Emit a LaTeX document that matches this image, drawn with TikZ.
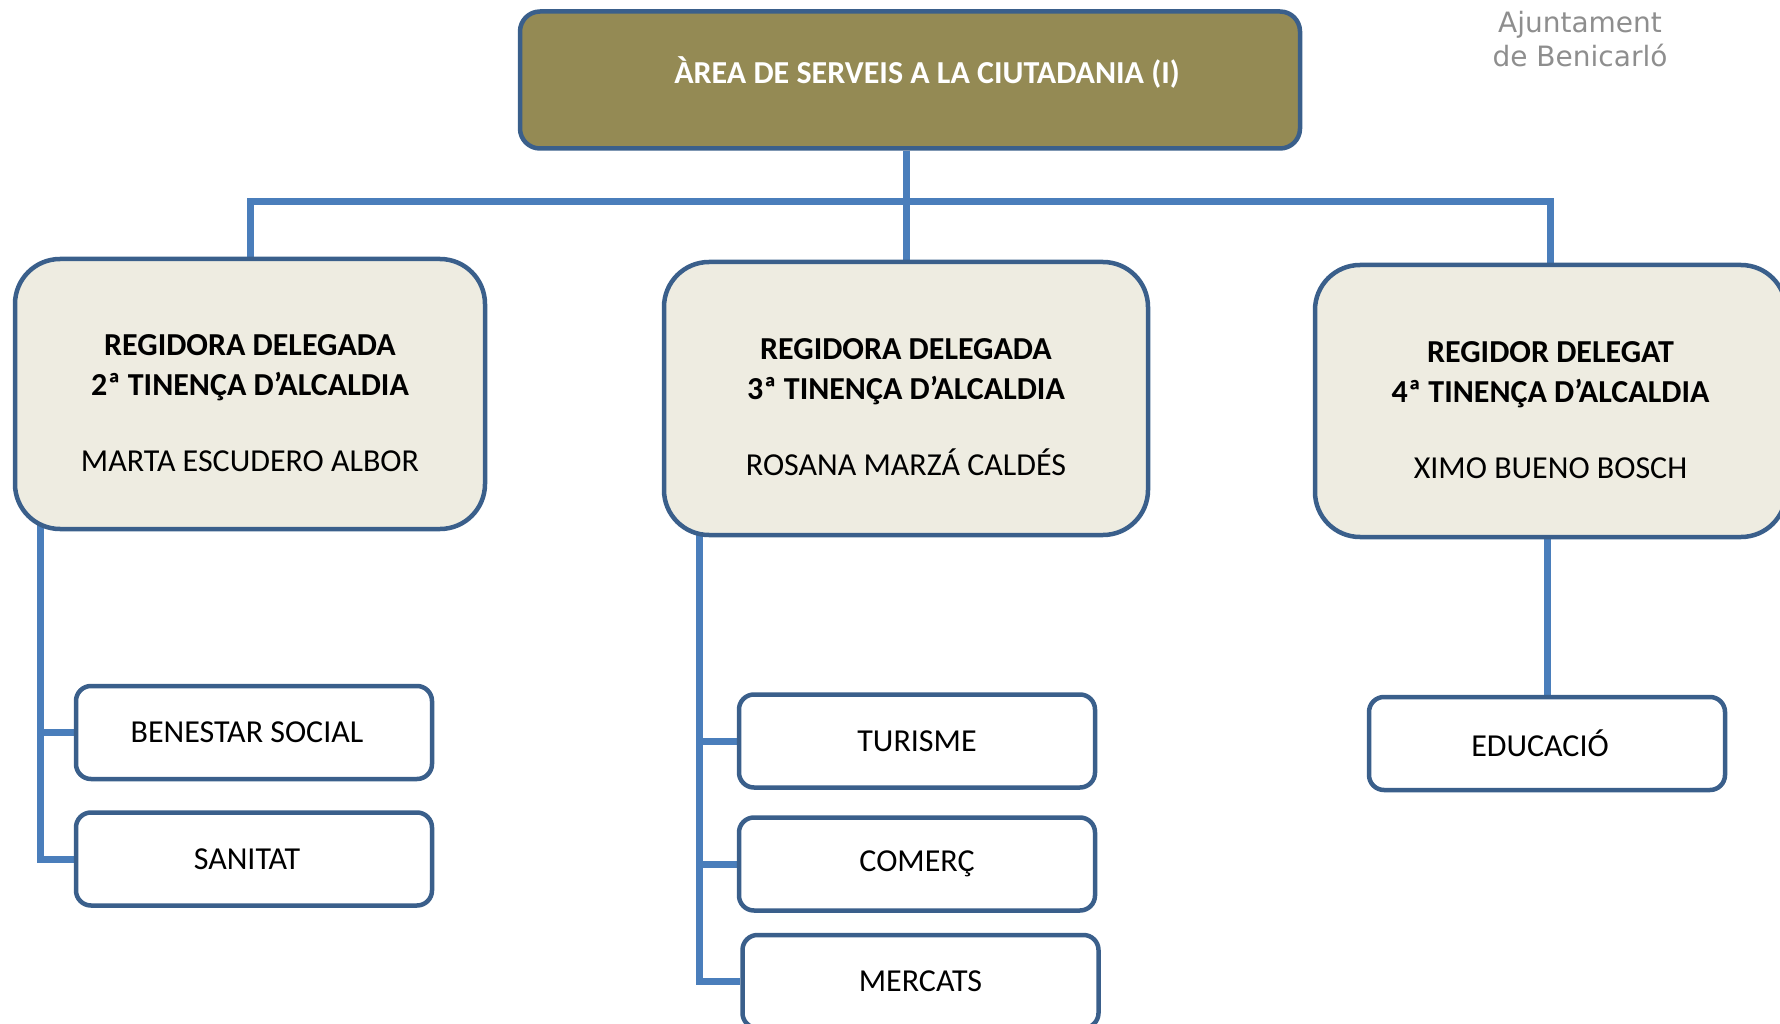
\documentclass[tikz,border=0pt]{standalone}
\usepackage{fontspec}
\usepackage{tikz}
\usetikzlibrary{backgrounds}
\setmainfont{Carlito}
\newfontfamily\logofont{DejaVu Sans}

\definecolor{olivebox}{HTML}{948A54}
\definecolor{beigebox}{HTML}{EEECE1}
\definecolor{edgeblue}{HTML}{3A5F8B}
\definecolor{linkblue}{HTML}{4A7EBB}
\definecolor{logogray}{HTML}{8E8E8E}

\tikzset{
  area/.style={draw=edgeblue, line width=4.5pt, fill=olivebox, rounded corners=20pt,
    text=white, font=\fontsize{32}{40}\selectfont\bfseries,
    minimum width=780pt, minimum height=137pt, text depth=19pt},
  regbox/.style={draw=edgeblue, line width=4.5pt, fill=beigebox, rounded corners=45pt,
    align=center, font=\fontsize{32}{40}\selectfont},
  unitbox/.style={draw=edgeblue, line width=4.5pt, fill=white, rounded corners=15pt,
    font=\fontsize{32}{40}\selectfont, minimum width=356pt, minimum height=93pt},
  link/.style={draw=linkblue, line width=7pt}
}
\newcommand{\topgap}{\rule{0pt}{39pt}}

\begin{document}
\begin{tikzpicture}[x=1pt, y=-1pt]
\useasboundingbox (0,0) rectangle (1780,1024);
\clip (0,0) rectangle (1780,1024);

% area and delegates
\node[area] (area) at (910,80) {\hspace{34pt}ÀREA DE SERVEIS A LA CIUTADANIA (I)};
\node[regbox, minimum width=470pt, minimum height=270pt] (reg2) at (250,394)
  {\topgap\textbf{REGIDORA DELEGADA}\\\textbf{2ª TINENÇA D’ALCALDIA}\\[36pt]MARTA ESCUDERO ALBOR};
\node[regbox, minimum width=484pt, minimum height=273pt] (reg3) at (906,398.5)
  {\topgap\textbf{REGIDORA DELEGADA}\\\textbf{3ª TINENÇA D’ALCALDIA}\\[36pt]ROSANA MARZÁ CALDÉS};
\node[regbox, minimum width=471pt, minimum height=272pt] (reg4) at (1550.5,401)
  {\topgap\textbf{REGIDOR DELEGAT}\\\textbf{4ª TINENÇA D’ALCALDIA}\\[36pt]XIMO BUENO BOSCH};

% units
\node[unitbox] (benestar) at (254,732.5) {BENESTAR SOCIAL\kern14pt};
\node[unitbox] (sanitat) at (254,859) {SANITAT\kern14pt};
\node[unitbox] (turisme) at (917,741) {TURISME};
\node[unitbox] (comerc) at (917,864) {COMERÇ};
\node[unitbox] (mercats) at (920.5,981.5) {MERCATS};
\node[unitbox] (educacio) at (1547,743.5) {EDUCACIÓ\kern14pt};

% logo
\node[font=\logofont\fontsize{28}{34}\selectfont, text=logogray, align=center] (logo)
  at (1580,39) {Ajuntament\\de Benicarló};

\coordinate (bar) at (906,202);
\coordinate (spine2) at (40,515);
\coordinate (spine3) at (699,520);

\begin{scope}[on background layer]
  \draw[link] (reg3.north |- area.south) -- (reg3.north);
  \draw[link] (reg2.north) -- (reg2.north |- bar) -- (reg4.north |- bar) -- (reg4.north);
  \draw[link] (spine2) |- (sanitat.west);
  \draw[link] (spine2 |- benestar.west) -- (benestar.west);
  \draw[link] (spine3) |- (mercats.west);
  \draw[link] (spine3 |- turisme.west) -- (turisme.west);
  \draw[link] (spine3 |- comerc.west) -- (comerc.west);
  \draw[link] (educacio.north |- reg4.south) -- (educacio.north);
\end{scope}
\end{tikzpicture}
\end{document}
